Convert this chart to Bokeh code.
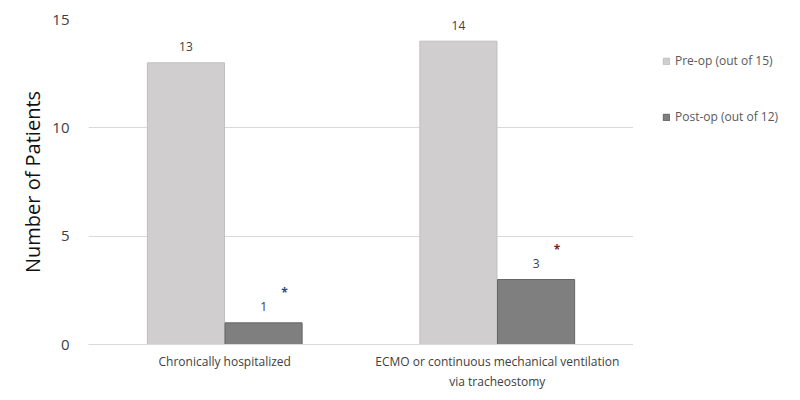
from bokeh.plotting import figure
from bokeh.layouts import row
from bokeh.models import ColumnDataSource, FactorRange, Range1d, Legend, LegendItem, FixedTicker
from bokeh.transform import dodge
from bokeh.core.properties import value
from bokeh.embed import file_html
from bokeh.resources import INLINE

categories = ["Chronically hospitalized", "ECMO or continuous mechanical ventilation\nvia tracheostomy"]
pre_op = [13, 14]
post_op = [1, 3]
pre_labels = ["13", "14"]
post_labels = ["1", "3"]
series_names = ["Pre-op (out of 15)", "Post-op (out of 12)"]
series_colors = ["#d0cece", "#7f7f7f"]
series_lines = ["#bfbfbf", "#666666"]
y_ticks = [0, 5, 10, 15]
star_colors = ["#2e4a7a", "#7a1f2a"]

src = ColumnDataSource(dict(cat=categories, pre=pre_op, post=post_op,
                            pre_lab=pre_labels, post_lab=post_labels,
                            star=["*", "*"], star_color=star_colors))

FONT = "Open Sans"

p = figure(frame_width=545, frame_height=325, x_range=FactorRange(*categories, range_padding=0),
           y_range=Range1d(0, 15), output_backend="svg", toolbar_location=None,
           min_border_left=88, min_border_top=19, min_border_bottom=30, min_border_right=0)
p.outline_line_color = None
p.background_fill_color = "white"
p.border_fill_color = "white"

w = 0.283
d = 0.1425
p.vbar(x=dodge("cat", -d, range=p.x_range), top="pre", width=w, source=src,
       fill_color=series_colors[0], line_color=series_lines[0], line_width=1)
p.vbar(x=dodge("cat", d, range=p.x_range), top="post", width=w, source=src,
       fill_color=series_colors[1], line_color=series_lines[1], line_width=1)

p.text(x=dodge("cat", -d, range=p.x_range), y="pre", text="pre_lab", source=src,
       text_align="center", text_baseline="middle", y_offset=-16,
       text_font=value(FONT), text_font_size="12px", text_color="#404040")
p.text(x=dodge("cat", d, range=p.x_range), y="post", text="post_lab", source=src,
       text_align="center", text_baseline="middle", y_offset=-16,
       text_font=value(FONT), text_font_size="12px", text_color="#404040")
p.text(x=dodge("cat", d, range=p.x_range), y="post", text="star", source=src,
       text_align="center", text_baseline="middle", y_offset=-30, x_offset=21,
       text_font=value(FONT), text_font_size="12px", text_font_style="bold",
       text_color="star_color")

p.xgrid.grid_line_color = None
p.ygrid.grid_line_color = "#d9d9d9"
p.ygrid.grid_line_width = 1
p.yaxis.ticker = FixedTicker(ticks=y_ticks)
p.yaxis.axis_line_color = None
p.yaxis.major_tick_line_color = None
p.yaxis.minor_tick_line_color = None
p.yaxis.major_label_text_font = FONT
p.yaxis.major_label_text_font_size = "15px"
p.yaxis.major_label_text_color = "#404040"
p.yaxis.major_label_standoff = 13
p.yaxis.axis_label = "Number of Patients"
p.yaxis.axis_label_text_font = FONT
p.yaxis.axis_label_text_font_style = "normal"
p.yaxis.axis_label_text_font_size = "20px"
p.yaxis.axis_label_text_color = "#111111"
p.yaxis.axis_label_standoff = 3

p.xaxis.axis_line_color = "#d9d9d9"
p.xaxis.major_tick_line_color = None
p.xaxis.minor_tick_line_color = None
p.xaxis.major_label_text_font = FONT
p.xaxis.major_label_text_font_size = "12px"
p.xaxis.major_label_text_color = "#404040"
p.xaxis.major_label_standoff = 2

# legend panel (same vertical frame as the main plot)
q = figure(frame_width=126, frame_height=325, x_range=Range1d(0, 1), y_range=Range1d(0, 1),
           output_backend="svg", toolbar_location=None, x_axis_type=None, y_axis_type=None,
           min_border_left=29, min_border_right=0, min_border_top=19, min_border_bottom=30)
q.outline_line_color = None
q.xgrid.grid_line_color = None
q.ygrid.grid_line_color = None
q.border_fill_color = "white"
hidden = ColumnDataSource(dict(x=[5], top=[0]))
l1 = q.vbar(x="x", top="top", width=0.1, source=hidden,
            fill_color=series_colors[0], line_color=series_lines[0])
l2 = q.vbar(x="x", top="top", width=0.1, source=hidden,
            fill_color=series_colors[1], line_color=series_lines[1])
legend = Legend(items=[LegendItem(label=series_names[0], renderers=[l1]),
                       LegendItem(label=series_names[1], renderers=[l2])],
                location=(0, 219), orientation="vertical")
legend.border_line_color = None
legend.background_fill_alpha = 0
legend.padding = 0
legend.margin = 0
legend.spacing = 39
legend.glyph_width = 8
legend.glyph_height = 8
legend.label_height = 16
legend.label_standoff = 5
legend.label_text_font = FONT
legend.label_text_font_size = "12px"
legend.label_text_color = "#595959"
q.add_layout(legend, "center")

layout = row(p, q, spacing=0)
open("out.html", "w").write(file_html(layout, INLINE))
